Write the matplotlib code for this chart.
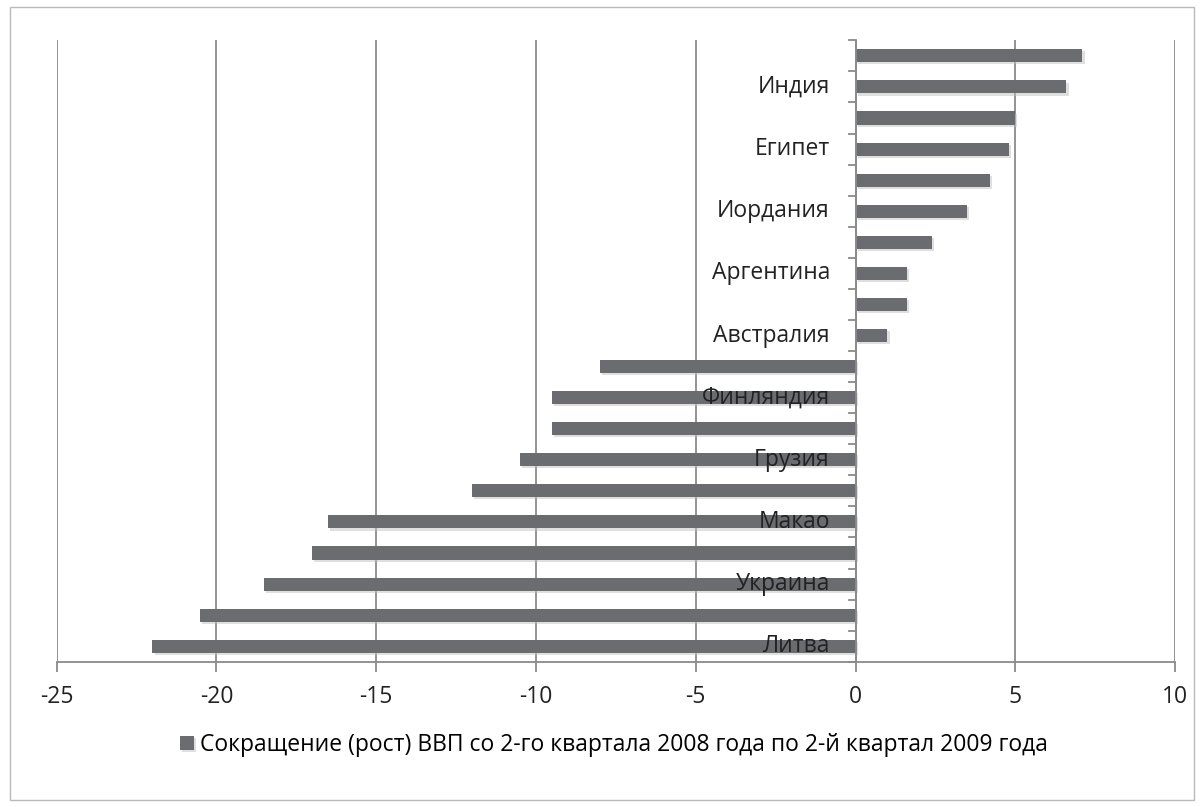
import matplotlib.pyplot as plt
import matplotlib.patheffects as pe
from matplotlib.patches import Rectangle
import numpy as np

# categories bottom -> top, unnamed ones have no visible label
countries = ["Литва", "", "Украина", "", "Макао", "", "Грузия", "", "Финляндия", "",
             "Австралия", "", "Аргентина", "", "Иордания", "", "Египет", "", "Индия", ""]
gdp_change = [-22.0, -20.5, -18.5, -17.0, -16.5, -12.0, -10.5, -9.5, -9.5, -8.0,
              1.0, 1.6, 1.6, 2.4, 3.5, 4.2, 4.8, 5.0, 6.6, 7.1]
series_name = "Сокращение (рост) ВВП со 2-го квартала 2008 года по 2-й квартал 2009 года"

plt.rcParams['font.family'] = ['Open Sans', 'DejaVu Sans']
plt.rcParams['axes.unicode_minus'] = False
fs = 16.5

fig = plt.figure(figsize=(12.04, 8.07), dpi=100)
ax = fig.add_axes([0.047, 0.180, 0.929, 0.770])

bar_color = '#6b6c70'
y = np.arange(len(countries))
bars = ax.barh(y, gdp_change, height=0.42, color=bar_color, zorder=3,
               label=series_name)
for b in bars:
    b.set_path_effects([pe.SimplePatchShadow(offset=(1.5, -1.5), shadow_rgbFace='#c0c0c0', alpha=0.5),
                        pe.Normal()])

ax.set_xlim(-25, 10)
ax.set_ylim(-0.5, len(countries) - 0.5)
ax.set_xticks(range(-25, 11, 5))
ax.xaxis.grid(True, color='#8a8a8a', linewidth=1.3, zorder=0)
ax.set_axisbelow(True)

for s in ['top', 'right', 'left']:
    ax.spines[s].set_visible(False)
ax.spines['bottom'].set_color('#8a8a8a')
ax.spines['bottom'].set_linewidth(1.3)
ax.tick_params(axis='x', length=7, width=1.3, color='#8a8a8a', pad=10,
               labelsize=fs, labelcolor='#222222')

# category axis drawn at x = 0
ax.axvline(0, color='#8a8a8a', linewidth=1.3, zorder=4)
ax.set_yticks([])
for yi, name in zip(y, countries):
    if name:
        ax.text(-0.8, yi, name, ha='right', va='center', fontsize=fs,
                color='#222222', zorder=5)
for yb in np.arange(-0.5, len(countries), 1.0):
    ax.plot([-0.2, 0], [yb, yb], color='#8a8a8a', linewidth=1.3, zorder=4,
            clip_on=False)

fig.legend(handles=[bars], labels=[series_name], loc='center',
           bbox_to_anchor=(0.51, 0.077), frameon=False, fontsize=fs,
           handlelength=0.6, handleheight=0.6, handletextpad=0.3)

fig.patches.append(Rectangle((0.008, 0.009), 0.984, 0.982, transform=fig.transFigure,
                             fill=False, edgecolor='#bbbbbb', linewidth=1))

fig.savefig('out.png', dpi=100, facecolor='white')
